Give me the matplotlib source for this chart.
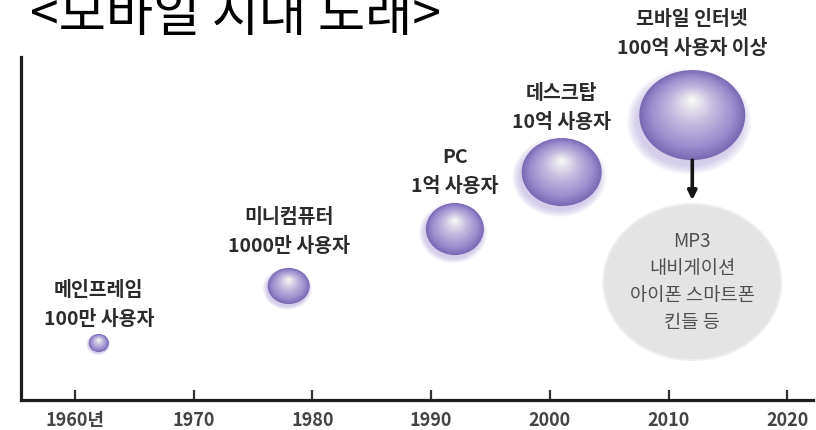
import numpy as np
import matplotlib
matplotlib.use('Agg')
import matplotlib.pyplot as plt
from matplotlib.patches import Ellipse
from matplotlib.colors import LinearSegmentedColormap

plt.rcParams['font.family'] = ['Noto Sans CJK KR', 'DejaVu Sans']

# ---------------- data ----------------
title = '<모바일 시대 도래>'
eras = ['메인프레임', '미니컴퓨터', 'PC', '데스크탑', '모바일 인터넷']
user_labels = ['100만 사용자', '1000만 사용자', '1억 사용자', '10억 사용자', '100억 사용자 이상']
years = [1962, 1978, 1992, 2001, 2012]
users = [1e6, 1e7, 1e8, 1e9, 1e10]
tick_years = [1960, 1970, 1980, 1990, 2000, 2010, 2020]
tick_labels = ['1960년', '1970', '1980', '1990', '2000', '2010', '2020']
device_lines = ['MP3', '내비게이션', '아이폰 스마트폰', '킨들 등']

# ---------------- style / layout ----------------
FW, FH, DPI = 816, 430, 100
ax_left_px, ax_right_px, ax_top_px, ax_bottom_px = 21, 813, 57, 400
xlim = (1955.45, 2022.17)
ylim = (5.0, 11.02)
bubble_r_px = [(10, 9), (21, 18), (29, 26), (40, 34), (53, 45)]
label_offset_px = [24, 40, 43, 50, 67]   # second label line above bubble centre
line_gap_px = 29
callout_offset_px = 167                   # grey circle centre below last bubble
callout_r_px = (88, 77)
arrow_px = (45, 85)                       # arrow tail / tip below last bubble centre
device_gap_px = 27

fig = plt.figure(figsize=(FW / DPI, FH / DPI), dpi=DPI)
ax = fig.add_axes([ax_left_px / FW, 1 - ax_bottom_px / FH,
                   (ax_right_px - ax_left_px) / FW, (ax_bottom_px - ax_top_px) / FH])
ax.set_xlim(*xlim)
ax.set_ylim(*ylim)
sx = (xlim[1] - xlim[0]) / (ax_right_px - ax_left_px)   # data units per pixel
sy = (ylim[1] - ylim[0]) / (ax_bottom_px - ax_top_px)

yvals = np.log10(users)

cmap = LinearSegmentedColormap.from_list(
    'sph', [(0.0, '#7c69b4'), (0.22, '#9a8dce'), (0.6, '#c2badf'), (1.0, '#f7f6f5')])


def sphere(x, y, rx, ry):
    # soft shadow
    for k in range(8):
        g = 1.0 + 0.025 * k
        ax.add_patch(Ellipse((x - 0.06 * rx * sx, y - 0.14 * ry * sy),
                             2 * rx * g * sx, 2 * ry * g * sy,
                             facecolor='#a89ad8', edgecolor='none', alpha=0.07, zorder=2))
    n = 45
    for i in range(n):
        t = i / (n - 1)
        s = 1 - 0.96 * t
        cy = y + 0.34 * ry * sy * t
        ax.add_patch(Ellipse((x, cy), 2 * rx * s * sx, 2 * ry * s * sy,
                             facecolor=cmap(t), edgecolor='none', zorder=3))


for x, y, (rx, ry), l1, l2, off in zip(years, yvals, bubble_r_px, eras, user_labels, label_offset_px):
    sphere(x, y, rx, ry)
    ax.annotate(l2, xy=(x, y), xytext=(0, off), textcoords='offset pixels',
                ha='center', va='center', fontsize=14, fontweight='bold', color='#2b2b2b', zorder=5)
    ax.annotate(l1, xy=(x, y), xytext=(0, off + line_gap_px), textcoords='offset pixels',
                ha='center', va='center', fontsize=14, fontweight='bold', color='#2b2b2b', zorder=5)

# callout circle below the mobile bubble
mx, my = years[-1], yvals[-1]
cy = my - callout_offset_px * sy
crx, cry = callout_r_px
ax.add_patch(Ellipse((mx, cy), 2 * (crx + 2) * sx, 2 * (cry + 2) * sy,
                     facecolor='#eeeeee', edgecolor='none', zorder=2))
ax.add_patch(Ellipse((mx, cy), 2 * crx * sx, 2 * cry * sy,
                     facecolor='#e4e4e4', edgecolor='none', zorder=2))
for k, line in enumerate(device_lines):
    off = (1.5 - k) * device_gap_px
    ax.annotate(line, xy=(mx, cy), xytext=(0, off), textcoords='offset pixels',
                ha='center', va='center', fontsize=13.5, color='#505050', zorder=5)

ax.annotate('', xy=(mx, my - arrow_px[1] * sy), xytext=(mx, my - arrow_px[0] * sy),
            arrowprops=dict(arrowstyle='-|>', color='#151515', lw=2.6, mutation_scale=13,
                            shrinkA=0, shrinkB=0), zorder=6)

# axes styling
for side in ['top', 'right']:
    ax.spines[side].set_visible(False)
for side in ['left', 'bottom']:
    ax.spines[side].set_linewidth(2.3)
    ax.spines[side].set_color('#1e1e1e')
ax.set_yticks([])
ax.set_xticks(tick_years)
ax.set_xticklabels(tick_labels, fontsize=13, fontweight='bold', color='#444444')
ax.tick_params(axis='x', direction='in', length=7.5, width=1.6, color='#333333', pad=8)
ax.set_facecolor('white')
ax.patch.set_alpha(0)

fig.text(30 / FW, 1 - 31 / FH, title, fontsize=37, color='black', ha='left', va='baseline')

fig.savefig('out.png', dpi=DPI, facecolor='white')
